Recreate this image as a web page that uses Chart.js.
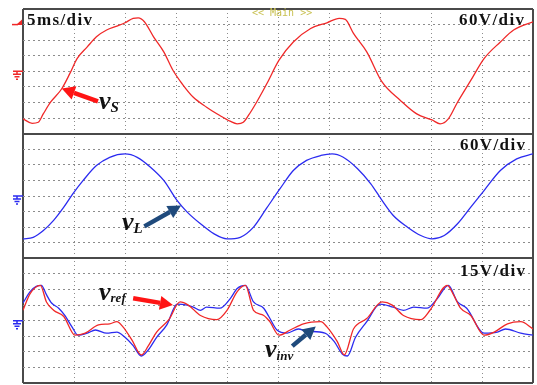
<!DOCTYPE html>
<html>
<head>
<meta charset="utf-8">
<title>Scope capture</title>
<script src="https://cdn.jsdelivr.net/npm/chart.js@4.4.1/dist/chart.umd.min.js"></script>
<style>
  body { margin: 0; background: #fff; }
  #wrap { position: relative; width: 537px; height: 385px; }
  #scope { position: absolute; left: 0; top: 0; }
  .txt { position: absolute; font-family: "Liberation Serif", "Times New Roman", serif; font-weight: bold; line-height: 1; white-space: nowrap; color: #111; }
  .per { font-size: 17px; letter-spacing: 1.4px; }
  .main { font-family: "DejaVu Sans Mono", monospace; font-weight: normal; font-size: 10px; color: #c8c050; }
  .lab { font-size: 26px; font-style: italic; }
  .lab .sub { position: relative; }
</style>
</head>
<body>
<div id="wrap">
  <canvas id="scope" width="537" height="385"></canvas>
  <div class="txt per" style="left:27px;top:11px">5ms/div</div>
  <div class="txt main" style="left:252px;top:8px">&lt;&lt; Main &gt;&gt;</div>
  <div class="txt per" style="left:459px;top:11px">60V/div</div>
  <div class="txt per" style="left:460px;top:136px">60V/div</div>
  <div class="txt per" style="left:460px;top:262px">15V/div</div>
  <div class="txt lab" style="left:99px;top:88px">v<span class="sub" style="font-size:15px;top:3px">S</span></div>
  <div class="txt lab" style="left:122px;top:209px">v<span class="sub" style="font-size:15px;top:3px">L</span></div>
  <div class="txt lab" style="left:99px;top:279px">v<span class="sub" style="font-size:13px;top:2px">ref</span></div>
  <div class="txt lab" style="left:265px;top:336px">v<span class="sub" style="font-size:13px;top:3px">inv</span></div>
</div>
<script>
// time axis in ms (5 ms/div, 10 div)
const timeTicks = [0, 50, 5];

// source voltage vS (60 V/div)
const vsTime = [0, 0.9, 1.5, 2.0, 2.7, 3.8, 4.6, 5.3, 6.3, 7.2, 8.2, 9.2, 10.0, 10.8, 11.3, 11.9, 12.8, 13.8, 14.7, 15.6,
  16.7, 18.0, 19.3, 20.3, 21.0, 21.6, 22.1, 22.9, 23.9, 25.1, 26.5, 28.2, 29.8, 31.0, 31.6, 32.4, 33.7, 35.2, 37.0, 38.6,
  40.1, 40.9, 41.7, 42.6, 43.9, 45.2, 46.8, 48.1, 50];
const vsVolts = [-183, -200, -196, -163, -119, -67, -8, 49, 94, 133, 159, 174, 187, 204, 206, 191, 133, 75, 4, -48,
  -100, -138, -170, -192, -202, -196, -170, -119, -48, 43, 113, 165, 187, 204, 200, 146, 75, -41, -112, -164,
  -187, -202, -183, -119, -35, 49, 113, 159, 191];

// load voltage vL (60 V/div)
const vlTime = [0, 1.0, 2.0, 3.0, 4.0, 4.9, 5.9, 7.2, 8.5, 10.0, 11.2, 12.5, 13.8, 15.1, 16.1, 17.4, 18.7, 20.0, 21.3, 22.6,
  23.9, 25.2, 26.5, 27.8, 29.2, 30.3, 31.4, 32.8, 34.1, 35.2, 36.3, 37.7, 39.0, 40.1, 41.3, 42.6, 43.9, 45.2, 46.8, 48.4, 50];
const vlVolts = [-165, -159, -133, -94, -43, 9, 60, 117, 149, 162, 149, 111, 60, -17, -62, -107, -145, -165, -159, -120,
  -46, 28, 98, 137, 156, 162, 149, 105, 47, -17, -75, -120, -152, -165, -152, -107, -43, 21, 98, 143, 162];

// reference vref (15 V/div)
const refTime = [0, 0.7, 1.7, 2.3, 3.0, 4.0, 5.1, 6.1, 7.4, 8.5, 9.2, 9.8, 10.7, 11.6, 12.3, 13.1, 14.3, 15.4, 16.2, 17.4,
  19.0, 20.0, 21.0, 21.8, 22.6, 23.6, 24.2, 25.1, 26.2, 27.5, 29.2, 29.8, 30.8, 31.5, 32.4, 33.7, 35.2, 36.2, 37.3, 39.0,
  39.9, 41.6, 42.2, 42.9, 43.9, 45.2, 46.2, 47.5, 48.8, 50];
const refVolts = [10, 26, 34, 18, 10, 4, -14, -12, -4, -3, -1, -6, -19, -33, -24, -11, 1, 18, 15, 5,
  1, 10, 28, 34, 10, 5, -1, -14, -9, -3, -1, -6, -20, -33, -8, 2, 18, 15, 5, 1,
  10, 34, 25, 12, 5, -14, -11, -3, -1, -8];

// inverter voltage vinv (15 V/div)
const invTime = [0, 0.7, 1.3, 1.8, 2.3, 2.8, 3.5, 4.1, 4.8, 5.4, 6.3, 7.1, 8.2, 9.2, 10.0, 10.8, 11.6, 12.3, 13.1, 14.1,
  15.1, 16.1, 16.7, 17.4, 18.0, 19.3, 20.3, 21.0, 21.8, 22.6, 23.6, 24.1, 24.9, 25.9, 27.0, 27.8, 29.6, 30.5, 31.3, 31.8,
  32.6, 33.7, 35.0, 36.3, 37.3, 38.3, 39.6, 40.6, 41.7, 42.6, 43.5, 45.2, 46.5, 47.3, 48.8, 50];
const invVolts = [17, 28, 33, 34, 25, 17, 12, 5, -6, -14, -12, -9, -12, -11, -16, -24, -34, -28, -16, -4,
  16, 15, 13, 10, 13, 12, 21, 31, 34, 18, 12, 4, -9, -12, -8, -10, -12, -20, -32, -34,
  -16, -1, 16, 13, 10, 13, 12, 21, 34, 18, 12, -12, -11, -8, -12, -14];

// volts per division for each panel (8 div high)
const panelScale = { yS: 60, yL: 60, yR: 15 };
const triggerLevel = 180;

// annotation arrows, in (ms, volts) of their panel
const arrows = [
  { axis: 'yS', from: [7.35, -116], to: [3.8, -66], color: '#ff1414' },
  { axis: 'yL', from: [11.9, -117], to: [15.5, -37], color: '#1f4a7c' },
  { axis: 'yR', from: [10.8, 21.6], to: [14.7, 15], color: '#ff1414' },
  { axis: 'yR', from: [26.4, -24.5], to: [28.7, -5.5], color: '#1f4a7c' }
];

function pts(t, v) {
  return t.map((x, i) => ({ x: x, y: v[i] }));
}

function isEdge(c) {
  return c.tick && (c.tick.value === c.scale.min || c.tick.value === c.scale.max);
}

function gridOpts(dots) {
  return {
    grid: {
      color: c => isEdge(c) ? '#4a4a4a' : '#8c8c8c',
      lineWidth: c => isEdge(c) ? 2 : 1,
      drawTicks: false
    },
    border: { display: false, dash: c => isEdge(c) ? [] : dots }
  };
}

function yAxis(vdiv) {
  return Object.assign({
    type: 'linear', position: 'left', stack: 'scope', stackWeight: 1,
    min: -4 * vdiv, max: 4 * vdiv,
    ticks: { display: false, stepSize: vdiv, font: { size: 4 } }
  }, gridOpts([2, 3]));
}

function drawArrow(ctx, x1, y1, x2, y2, color) {
  const a = Math.atan2(y2 - y1, x2 - x1);
  const head = 13, half = 7;
  const bx = x2 - head * Math.cos(a), by = y2 - head * Math.sin(a);
  ctx.save();
  ctx.strokeStyle = color;
  ctx.fillStyle = color;
  ctx.lineWidth = 4.5;
  ctx.beginPath();
  ctx.moveTo(x1, y1);
  ctx.lineTo(bx, by);
  ctx.stroke();
  ctx.beginPath();
  ctx.moveTo(x2, y2);
  ctx.lineTo(bx + half * Math.sin(a), by - half * Math.cos(a));
  ctx.lineTo(bx - half * Math.sin(a), by + half * Math.cos(a));
  ctx.closePath();
  ctx.fill();
  ctx.restore();
}

function drawGround(ctx, y, color) {
  ctx.save();
  ctx.strokeStyle = color;
  ctx.lineWidth = 1.5;
  ctx.beginPath();
  ctx.moveTo(13, y); ctx.lineTo(23, y);
  ctx.moveTo(17, y); ctx.lineTo(17, y + 3);
  ctx.moveTo(13, y + 3); ctx.lineTo(21, y + 3);
  ctx.moveTo(14.5, y + 5.5); ctx.lineTo(19.5, y + 5.5);
  ctx.moveTo(16, y + 8); ctx.lineTo(18, y + 8);
  ctx.stroke();
  ctx.restore();
}

const scopeMarks = {
  id: 'scopeMarks',
  afterDraw(chart) {
    const ctx = chart.ctx;
    const s = chart.scales;
    drawGround(ctx, s.yS.getPixelForValue(0), '#f02828');
    drawGround(ctx, s.yL.getPixelForValue(0), '#2b2bf0');
    drawGround(ctx, s.yR.getPixelForValue(0), '#2b2bf0');
    // trigger level flag
    const ty = s.yS.getPixelForValue(triggerLevel);
    ctx.save();
    ctx.fillStyle = '#f02828';
    ctx.strokeStyle = '#f02828';
    ctx.lineWidth = 1.5;
    ctx.beginPath(); ctx.moveTo(12, ty); ctx.lineTo(18, ty); ctx.stroke();
    ctx.beginPath(); ctx.moveTo(16, ty + 0.5); ctx.lineTo(22, ty + 0.5); ctx.lineTo(22, ty - 5); ctx.closePath(); ctx.fill();
    ctx.restore();
    arrows.forEach(ar => {
      const y = s[ar.axis];
      drawArrow(ctx, s.x.getPixelForValue(ar.from[0]), y.getPixelForValue(ar.from[1]),
        s.x.getPixelForValue(ar.to[0]), y.getPixelForValue(ar.to[1]), ar.color);
    });
  }
};

const lineStyle = { pointRadius: 0, borderWidth: 1.3, cubicInterpolationMode: 'monotone', fill: false };

new Chart(document.getElementById('scope'), {
  type: 'line',
  data: {
    datasets: [
      Object.assign({ label: 'vs', data: pts(vsTime, vsVolts), borderColor: '#f02828', yAxisID: 'yS' }, lineStyle),
      Object.assign({ label: 'vL', data: pts(vlTime, vlVolts), borderColor: '#2b2bf0', yAxisID: 'yL' }, lineStyle),
      Object.assign({ label: 'vref', data: pts(refTime, refVolts), borderColor: '#f02828', yAxisID: 'yR' }, lineStyle),
      Object.assign({ label: 'vinv', data: pts(invTime, invVolts), borderColor: '#2b2bf0', yAxisID: 'yR' }, lineStyle)
    ]
  },
  options: {
    responsive: false,
    animation: false,
    layout: { padding: { left: 23, top: 9, right: 4, bottom: 2 } },
    plugins: { legend: { display: false }, tooltip: { enabled: false } },
    scales: Object.assign({
      x: Object.assign({
        type: 'linear', min: timeTicks[0], max: timeTicks[1],
        ticks: { display: false, stepSize: timeTicks[2], font: { size: 4 } }
      }, gridOpts([1, 3])),
      yR: yAxis(panelScale.yR),
      yL: yAxis(panelScale.yL),
      yS: yAxis(panelScale.yS)
    })
  },
  plugins: [scopeMarks]
});
</script>
</body>
</html>
